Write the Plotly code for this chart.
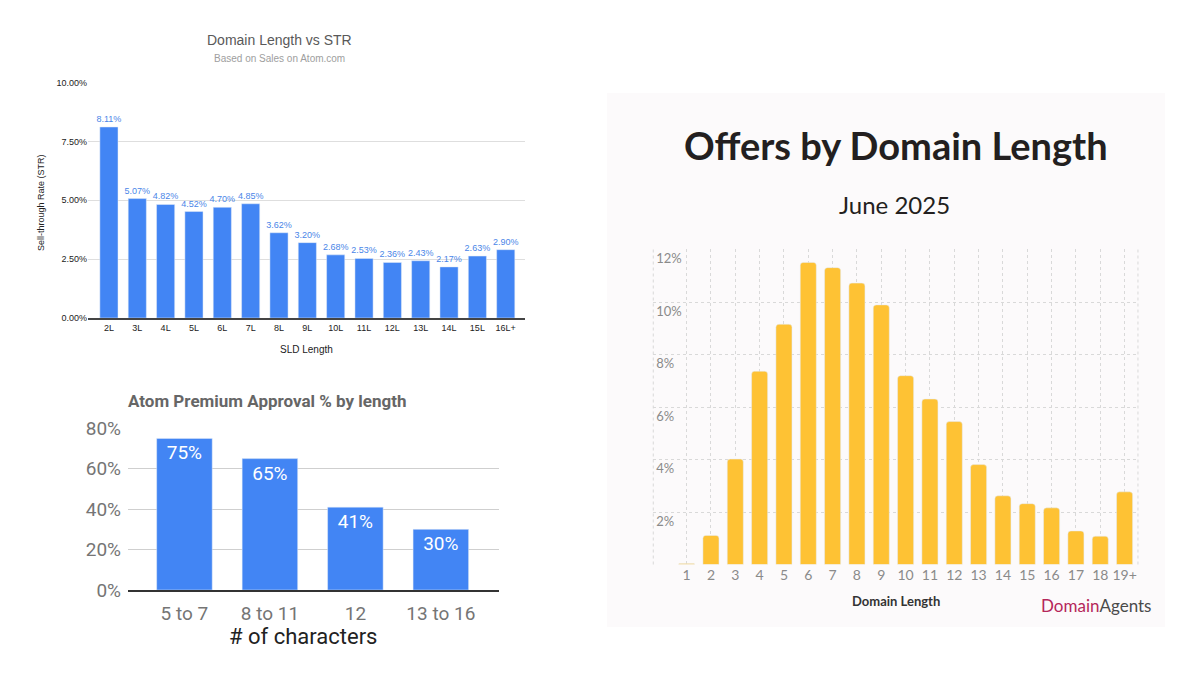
import plotly.graph_objects as go

# top-left: sell-through rate by SLD length
str_labels = ["2L", "3L", "4L", "5L", "6L", "7L", "8L", "9L", "10L", "11L", "12L", "13L", "14L", "15L", "16L+"]
str_values = [8.11, 5.07, 4.82, 4.52, 4.70, 4.85, 3.62, 3.20, 2.68, 2.53, 2.36, 2.43, 2.17, 2.63, 2.90]
str_ticks = [0, 2.5, 5, 7.5, 10]

# bottom-left: premium approval by number of characters
approval_labels = ["5 to 7", "8 to 11", "12", "13 to 16"]
approval_values = [75, 65, 41, 30]
approval_ticks = [0, 20, 40, 60, 80]

# right: share of offers by domain length, June 2025
offer_labels = ["1", "2", "3", "4", "5", "6", "7", "8", "9", "10",
                "11", "12", "13", "14", "15", "16", "17", "18", "19+"]
offer_values = [0.04, 1.11, 4.02, 7.37, 9.16, 11.52, 11.32, 10.73, 9.90, 7.20,
                6.31, 5.45, 3.81, 2.62, 2.32, 2.16, 1.28, 1.08, 2.77]
offer_ticks = [0, 2, 4, 6, 8, 10, 12]

GBLUE = "#4285f4"
GOLD = "#fec234"
offer_x = list(range(1, len(offer_labels) + 1))

fig = go.Figure()

fig.add_trace(go.Bar(
    x=str_labels, y=str_values, xaxis="x", yaxis="y",
    marker_color=GBLUE, width=0.64,
    text=[f"{v:.2f}%" for v in str_values], textposition="outside",
    constraintext="none",
    textfont=dict(family="Liberation Sans", size=9, color="#4a86e8"),
    cliponaxis=False, showlegend=False,
))

fig.add_trace(go.Bar(
    x=approval_labels, y=approval_values, xaxis="x2", yaxis="y2",
    marker_color=GBLUE, width=0.65,
    text=[f"{v}%" for v in approval_values], textposition="inside",
    insidetextanchor="end", constraintext="none",
    textfont=dict(family="Roboto", size=19, color="white"),
    showlegend=False,
))

fig.add_trace(go.Bar(
    x=offer_x, y=offer_values, xaxis="x3", yaxis="y3",
    marker=dict(color=GOLD, cornerradius=3), width=0.66,
    showlegend=False,
))

fig.update_layout(
    width=1200, height=675,
    margin=dict(l=0, r=0, t=0, b=0, autoexpand=False),
    paper_bgcolor="white",
    plot_bgcolor="rgba(0,0,0,0)",
    # top-left
    xaxis=dict(domain=[0.0733, 0.4375], range=[-0.74, 14.68], automargin=False,
               showgrid=False, showline=True, linecolor="#444", linewidth=1.5,
               ticks="", tickfont=dict(family="Liberation Sans", size=9, color="#222")),
    yaxis=dict(domain=[0.5289, 0.8785], range=[0, 10.02], automargin=False,
               tickvals=str_ticks, ticktext=[f"{v:.2f}%" for v in str_ticks],
               showgrid=True, gridcolor="#dedede", zeroline=False, ticks="",
               tickfont=dict(family="Liberation Sans", size=9, color="#222")),
    # bottom-left
    xaxis2=dict(domain=[0.1067, 0.4158], range=[-0.66, 3.68], anchor="y2",
                automargin=False, showgrid=False, showline=True,
                linecolor="#333", linewidth=2, ticks="", ticklabelstandoff=5,
                tickfont=dict(family="Roboto", size=19, color="#757575")),
    yaxis2=dict(domain=[0.1259, 0.3664], range=[0, 80.3], anchor="x2",
                automargin=False, tickvals=approval_ticks,
                ticktext=[f"{v}%" for v in approval_ticks],
                showgrid=True, gridcolor="#cfcfcf", zeroline=False, ticks="",
                ticklabelstandoff=6,
                tickfont=dict(family="Roboto", size=19, color="#757575")),
    # right
    xaxis3=dict(domain=[0.5444, 0.9483], range=[-0.37, 19.55], anchor="y3",
                automargin=False, tickvals=offer_x, ticktext=offer_labels,
                showgrid=True, gridcolor="#d9d9d9", griddash="dot",
                zeroline=False, ticks="",
                tickfont=dict(family="Lato", size=14, color="#8a8a8a")),
    yaxis3=dict(domain=[0.1637, 0.6307], range=[0, 12.02], anchor="x3",
                automargin=False, tickvals=offer_ticks,
                ticktext=[""] + [f"{v}%" for v in offer_ticks[1:]],
                ticklabelposition="inside", ticklabelshift=9,
                showgrid=True, gridcolor="#d9d9d9", griddash="dot",
                zeroline=False, ticks="",
                tickfont=dict(family="Lato", size=13, color="#8a8a8a")),
)

# light panel behind the right chart and its dotted side borders
fig.add_shape(type="rect", xref="paper", yref="paper", x0=0.5058, x1=0.9708,
              y0=0.0711, y1=0.8622, fillcolor="#fcfafb", line_width=0, layer="below")
for xd in [0, 1]:
    fig.add_shape(type="line", xref="x3 domain", yref="y3 domain", x0=xd, x1=xd,
                  y0=0, y1=1, line=dict(color="#d9d9d9", width=1, dash="dot"),
                  layer="below")

annotations = [
    dict(text="Domain Length vs STR", x=0.2333, y=0.9407,
         font=dict(family="Liberation Sans", size=14, color="#595959")),
    dict(text="Based on Sales on Atom.com", x=0.2333, y=0.9126,
         font=dict(family="Liberation Sans", size=10, color="#9e9e9e")),
    dict(text="Sell-through Rate (STR)", x=0.0342, y=0.6993, textangle=-90,
         font=dict(family="Liberation Sans", size=9, color="#222")),
    dict(text="SLD Length", x=0.2558, y=0.4815,
         font=dict(family="Liberation Sans", size=10, color="#222")),
    dict(text="<b>Atom Premium Approval % by length</b>", x=0.105, y=0.4059,
         xanchor="left", font=dict(family="Roboto", size=17, color="#666")),
    dict(text="# of characters", x=0.2525, y=0.0563,
         font=dict(family="Roboto", size=22, color="#222")),
    dict(text="<b>Offers by Domain Length</b>", x=0.7467, y=0.7852,
         font=dict(family="Lato", size=38, color="#231f20")),
    dict(text="June 2025", x=0.7458, y=0.6963,
         font=dict(family="Lato", size=24, color="#231f20")),
    dict(text="<b>Domain Length</b>", x=0.7467, y=0.1096,
         font=dict(family="Lato", size=13, color="#333")),
    dict(text="<span style='color:#b5275a'>Domain</span><span style='color:#4a4a4a'>Agents</span>",
         x=0.9608, y=0.1037, xanchor="right",
         font=dict(family="Lato", size=17)),
]
for a in annotations:
    a.setdefault("xanchor", "center")
    fig.add_annotation(xref="paper", yref="paper", showarrow=False, yanchor="middle", **a)

fig.write_html("out.html", config={"displayModeBar": False},
               post_script="document.body.style.margin='0';")
